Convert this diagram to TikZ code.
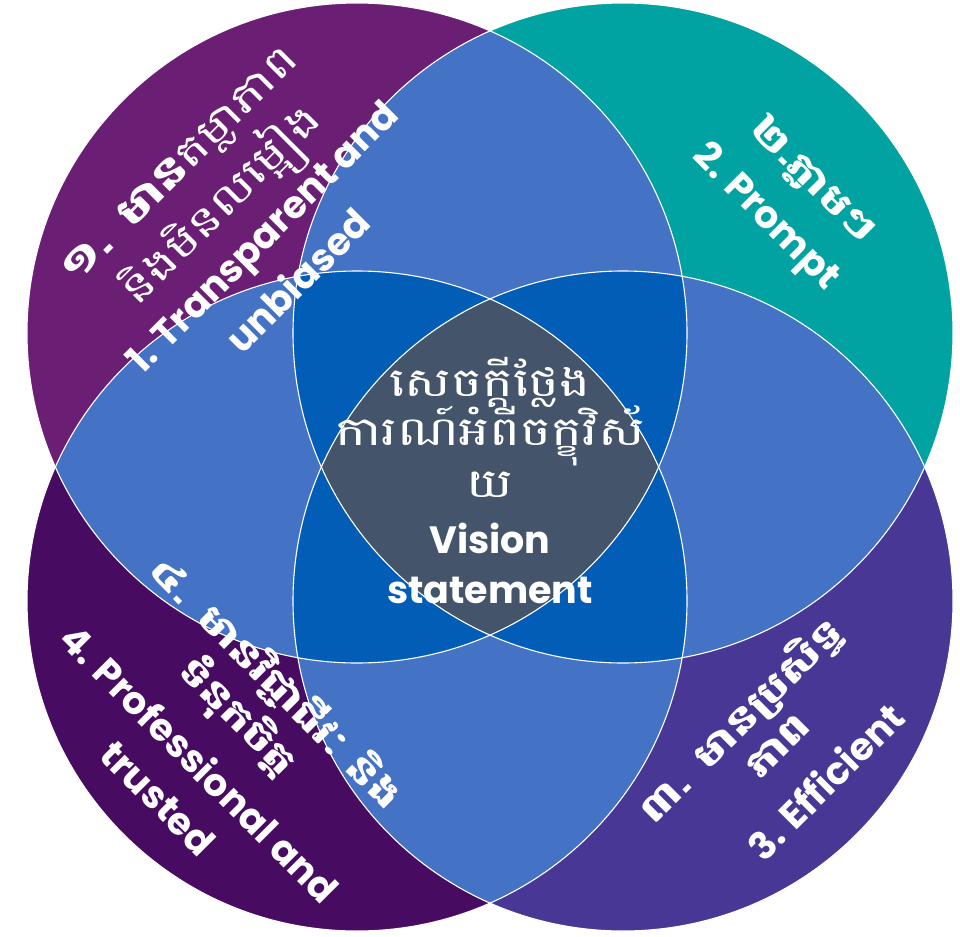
\documentclass[tikz,border=0pt]{standalone}
\usepackage{fontspec}
\setmainfont{Poppins}
\newfontfamily\kh[Script=Khmer, FakeStretch=1.3]{Battambang}
\definecolor{cTLc}{HTML}{6B1F74}
\definecolor{cTRc}{HTML}{00A3A1}
\definecolor{cBRc}{HTML}{483795}
\definecolor{cBLc}{HTML}{470C62}
\definecolor{two}{HTML}{4472C4}
\definecolor{three}{HTML}{025DB6}
\definecolor{four}{HTML}{44546A}
\tikzset{
  ring/.style={draw=white, line width=1.1pt},
  en/.style={text=white, font=\fontsize{38}{44}\selectfont\bfseries, inner sep=0pt},
  khb/.style={text=white, font=\fontsize{36}{42}\selectfont\kh\bfseries, inner sep=0pt},
  khr/.style={text=white, font=\fontsize{40}{46}\selectfont\kh, inner sep=0pt}
}
\begin{document}
\begin{tikzpicture}[x=1pt,y=-1pt]
\useasboundingbox (0,0) rectangle (960,936);
\def\R{330pt}
\coordinate (A) at (357,333);
\coordinate (B) at (623,333);
\coordinate (C) at (623,601);
\coordinate (D) at (357,601);
% single circles
\fill[cTLc] (A) circle[radius=\R];
\fill[cTRc] (B) circle[radius=\R];
\fill[cBRc] (C) circle[radius=\R];
\fill[cBLc] (D) circle[radius=\R];
% pairs
\begin{scope}\clip (A) circle[radius=\R]; \fill[two] (B) circle[radius=\R]; \fill[two] (C) circle[radius=\R]; \fill[two] (D) circle[radius=\R];\end{scope}
\begin{scope}\clip (B) circle[radius=\R]; \fill[two] (C) circle[radius=\R]; \fill[two] (D) circle[radius=\R];\end{scope}
\begin{scope}\clip (C) circle[radius=\R]; \fill[two] (D) circle[radius=\R];\end{scope}
% triples
\begin{scope}\clip (A) circle[radius=\R]; \clip (B) circle[radius=\R]; \fill[three] (C) circle[radius=\R]; \fill[three] (D) circle[radius=\R];\end{scope}
\begin{scope}\clip (C) circle[radius=\R]; \clip (D) circle[radius=\R]; \fill[three] (A) circle[radius=\R]; \fill[three] (B) circle[radius=\R];\end{scope}
% all four
\begin{scope}\clip (A) circle[radius=\R]; \clip (B) circle[radius=\R]; \clip (C) circle[radius=\R]; \fill[four] (D) circle[radius=\R];\end{scope}
% outlines
\draw[ring] (A) circle[radius=\R];
\draw[ring] (B) circle[radius=\R];
\draw[ring] (C) circle[radius=\R];
\draw[ring] (D) circle[radius=\R];
% top-left
\node[khr, rotate=45] (tl1) at (183,168) {{\bfseries ១. មាន}តម្លាភាព};
\node[khr, rotate=45] (tl2) at (223,207) {និងមិនលម្អៀង};
\node[en, rotate=45] (tl3) at (265,240) {1. Transparent and};
\node[en, rotate=45] (tl4) at (297,280) {unbiased};
% top-right
\node[khb, rotate=-45] (tr1) at (812,181) {២.ភ្លាមៗ};
\node[en, rotate=-45] (tr2) at (765,218) {2. Prompt};
% bottom-right
\node[khb, rotate=45] (br1) at (741,721) {៣. មានប្រសិទ្ធ};
\node[khb, rotate=45] (br2) at (778,746) {ភាព};
\node[en, rotate=45] (br3) at (825,781) {3. Efficient};
% bottom-left
\node[khb, rotate=-45] (bl1) at (276,683) {៤. មានវិជ្ជាជីវៈ និង};
\node[khb, rotate=-45] (bl2) at (237,717) {ទំនុកចិត្ត};
\node[en, rotate=-45] (bl3) at (200,763) {4. Professional and};
\node[en, rotate=-45] (bl4) at (158,798) {trusted};
% centre
\node[khr] (c1) at (490,382) {សេចក្តីថ្លែង};
\node[khr] (c2) at (490,436) {ការណ៍អំពីចក្ខុវិស័};
\node[khr] (c3) at (490,485) {យ};
\node[en] (c4) at (490,538) {Vision};
\node[en] (c5) at (490,590) {statement};
\end{tikzpicture}
\end{document}
